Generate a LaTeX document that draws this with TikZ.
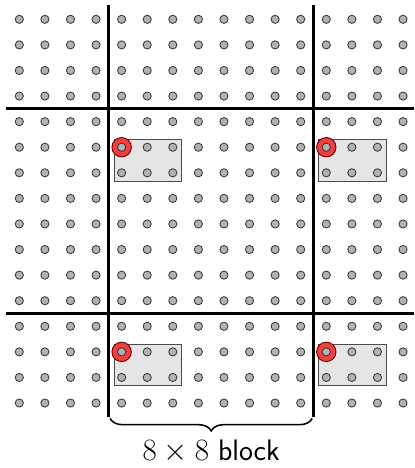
\documentclass[tikz,border=0pt]{standalone}
\usetikzlibrary{decorations.pathreplacing}
\definecolor{ringred}{RGB}{242,62,62}
\begin{document}
\begin{tikzpicture}[x=0.5cm,y=-0.5cm,
  dotmark/.style={fill=black!30, draw=black!80, line width=0.45pt},
  blockbox/.style={fill=black!10, draw=black!70, line width=0.5pt},
  ringmark/.style={fill=ringred, draw=black!60!red, line width=0.5pt},
  thickline/.style={line width=1.8pt},
  bracestyle/.style={decorate, decoration={brace, mirror, amplitude=7pt}, line width=0.85pt}]
\useasboundingbox (-0.755,-0.755) rectangle (15.43,17.54);
% highlighted blocks
\foreach \bx/\by in {4/5,12/5,4/13,12/13}{
  \filldraw[blockbox] (\bx-0.29,\by-0.29) rectangle (\bx+2.34,\by+1.33);
  \filldraw[ringmark] (\bx,\by) circle (0.38);
}
% dots
\foreach \i in {0,...,15}{
  \foreach \j in {0,...,15}{
    \filldraw[dotmark] (\i,\j) circle (0.16);
  }
}
% block boundaries
\draw[thickline] (3.5,-0.56) -- (3.5,15.55);
\draw[thickline] (11.5,-0.56) -- (11.5,15.55);
\draw[thickline] (-0.52,3.5) -- (15.43,3.5);
\draw[thickline] (-0.52,11.5) -- (15.43,11.5);
% brace and label
\coordinate (bl) at (3.55,15.6);
\coordinate (br) at (11.45,15.6);
\draw[bracestyle] (bl) -- (br);
\node[inner sep=0pt] (lbl) at (7.5,16.88) {\fontsize{16.5}{19}\selectfont $8\times 8$ \textsf{block}};
\end{tikzpicture}
\end{document}
